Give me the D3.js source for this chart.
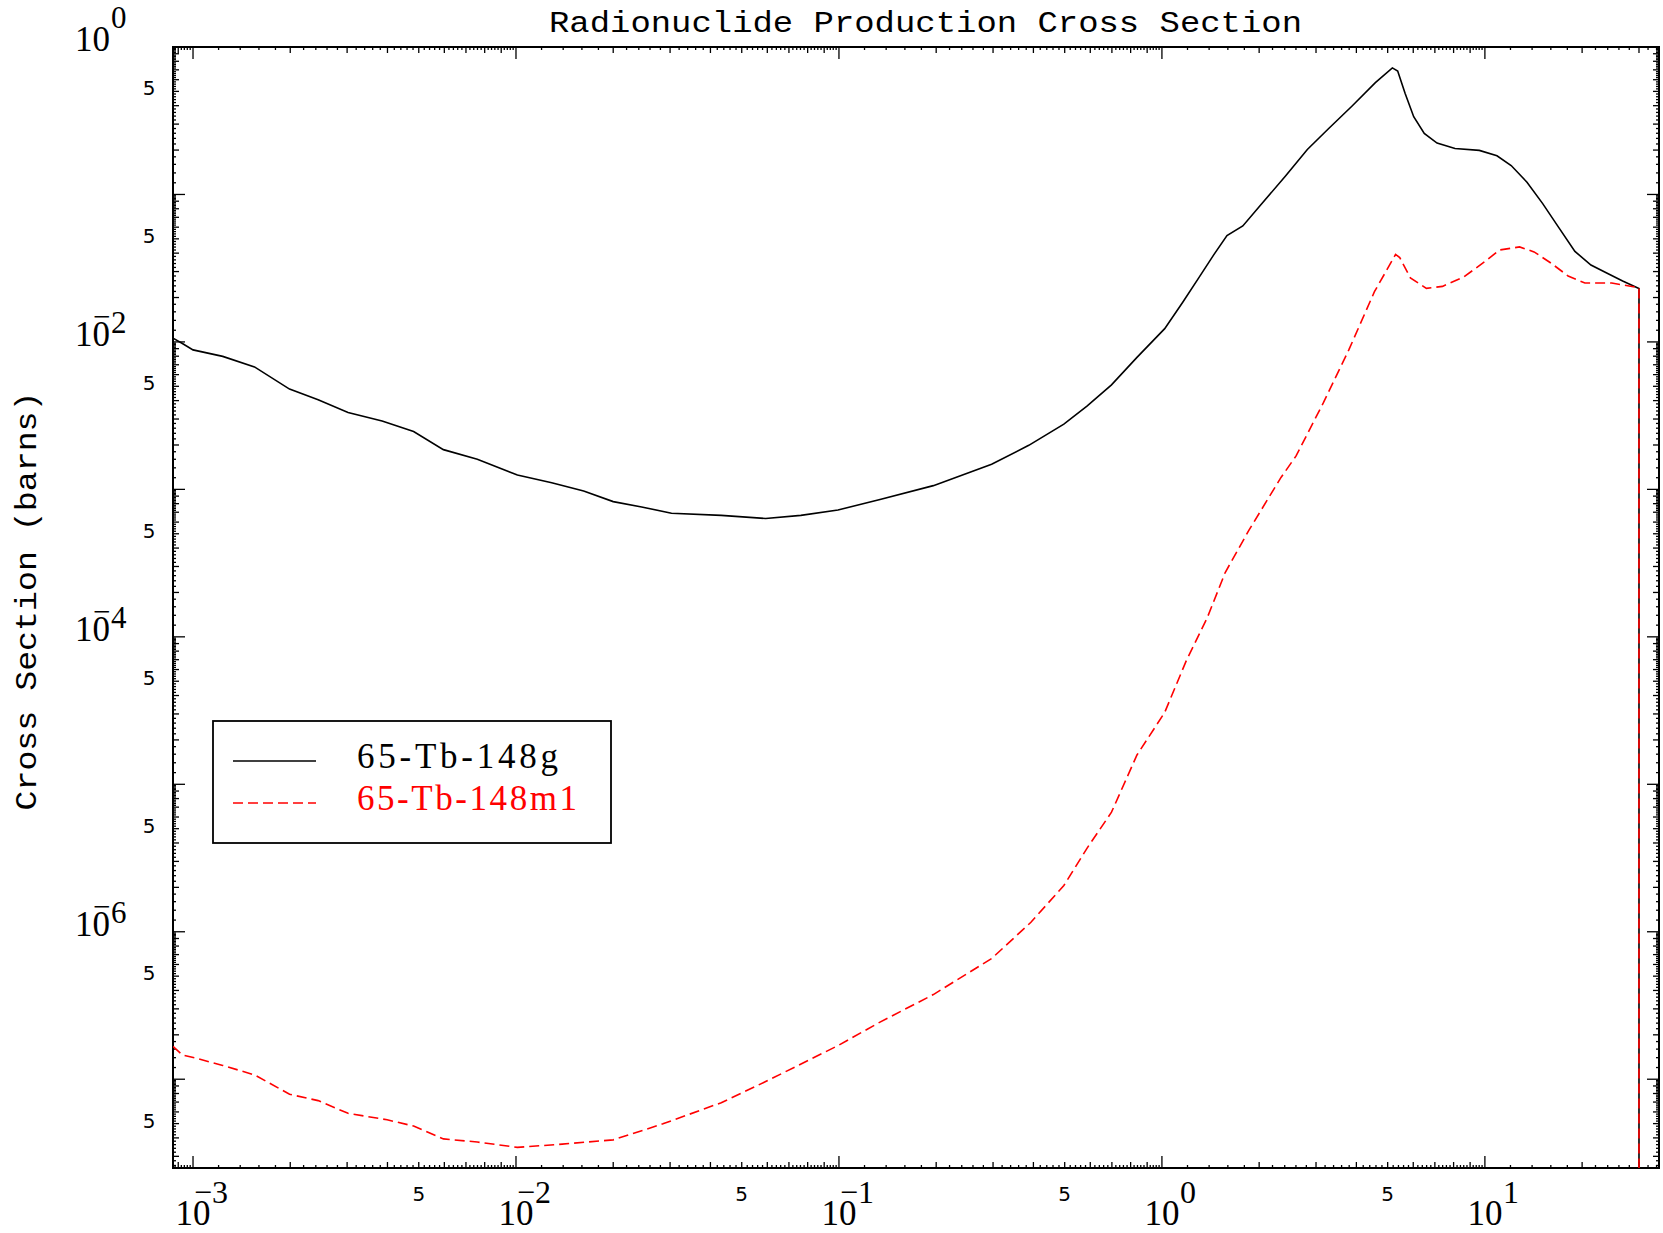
<!DOCTYPE html>
<html>
<head>
<meta charset="utf-8">
<script src="https://cdn.jsdelivr.net/npm/d3@7"></script>
<style>
  body { margin: 0; background: #fff; }
  svg { display: block; }
</style>
</head>
<body>
<div id="chart"></div>
<script>
// cross section (barns) vs incident energy (MeV)
const energyG = [8.67e-4, 9.27e-4, 1.0e-3, 1.236e-3, 1.55e-3, 1.99e-3, 2.44e-3, 3.02e-3, 3.85e-3, 4.82e-3,
  5.96e-3, 7.59e-3, 1.01e-2, 1.29e-2, 1.62e-2, 2.0e-2, 2.45e-2, 3.03e-2, 4.32e-2, 5.93e-2,
  7.62e-2, 9.93e-2, 0.134, 0.196, 0.297, 0.387, 0.497, 0.586, 0.698, 0.837,
  1.02, 1.16, 1.30, 1.45, 1.59, 1.78, 2.04, 2.41, 2.82, 3.29,
  3.88, 4.58, 5.17, 5.37, 5.66, 6.02, 6.49, 7.11, 8.08, 9.61,
  10.9, 12.06, 13.5, 15.1, 16.96, 19.0, 21.3, 24.0, 26.7, 30.0, 30.0]
const sigmaG = [1.06e-2, 9.75e-3, 8.83e-3, 7.98e-3, 6.77e-3, 4.79e-3, 4.06e-3, 3.32e-3, 2.91e-3, 2.47e-3,
  1.86e-3, 1.60e-3, 1.25e-3, 1.11e-3, 9.75e-4, 8.26e-4, 7.60e-4, 6.89e-4, 6.66e-4, 6.35e-4,
  6.66e-4, 7.25e-4, 8.55e-4, 1.06e-3, 1.48e-3, 1.99e-3, 2.77e-3, 3.67e-3, 5.11e-3, 7.86e-3,
  1.23e-2, 1.86e-2, 2.72e-2, 3.92e-2, 5.27e-2, 6.12e-2, 8.67e-2, 0.133, 0.202, 0.281,
  0.398, 0.573, 0.722, 0.687, 0.485, 0.337, 0.259, 0.223, 0.205, 0.199,
  0.183, 0.157, 0.121, 0.0867, 0.0593, 0.0411, 0.0332, 0.0291, 0.0259, 0.0230, 1e-10]

const energyM = [8.67e-4, 9.27e-4, 1.02e-3, 1.236e-3, 1.55e-3, 1.99e-3, 2.44e-3, 3.02e-3, 3.99e-3, 4.82e-3,
  5.96e-3, 7.59e-3, 1.01e-2, 1.39e-2, 2.0e-2, 2.85e-2, 4.32e-2, 5.93e-2, 9.93e-2, 0.134,
  0.196, 0.297, 0.393, 0.497, 0.586, 0.698, 0.837, 1.02, 1.19, 1.38,
  1.57, 1.86, 2.34, 2.60, 3.16, 3.79, 4.55, 5.29, 5.45, 5.88,
  6.59, 7.39, 8.59, 9.98, 11.1, 12.8, 14.2, 16.0, 18.1, 20.4,
  24.7, 30.0, 30.0]
const sigmaM = [1.67e-7, 1.46e-7, 1.39e-7, 1.24e-7, 1.07e-7, 7.91e-8, 7.16e-8, 5.87e-8, 5.31e-8, 4.81e-8,
  3.94e-8, 3.75e-8, 3.45e-8, 3.63e-8, 3.88e-8, 4.98e-8, 6.93e-8, 9.64e-8, 1.69e-7, 2.44e-7,
  3.75e-7, 6.58e-7, 1.16e-6, 2.06e-6, 3.68e-6, 6.47e-6, 1.58e-5, 3.07e-5, 6.90e-5, 1.34e-4,
  2.73e-4, 5.29e-4, 1.21e-3, 1.68e-3, 3.86e-3, 8.83e-3, 2.19e-2, 3.92e-2, 3.73e-2, 2.72e-2,
  2.31e-2, 2.38e-2, 2.75e-2, 3.5e-2, 4.2e-2, 4.41e-2, 4.08e-2, 3.43e-2, 2.80e-2, 2.51e-2,
  2.51e-2, 2.33e-2, 1e-10]

const seriesNames = ["65-Tb-148g", "65-Tb-148m1"]
const seriesColors = ["#000000", "#ff0000"]

// axis ranges and labelled ticks
const xDomain = [8.67e-4, 34.6]
const yDomain = [2.5e-8, 1]
const xMajorTicks = [1e-3, 1e-2, 1e-1, 1, 10]
const xMajorExp = ["\u22123", "\u22122", "\u22121", "0", "1"]
const xFiveTicks = [5e-3, 5e-2, 5e-1, 5]
const yMajorTicks = [1, 1e-2, 1e-4, 1e-6]
const yMajorExp = ["0", "\u22122", "\u22124", "\u22126"]
const yFiveTicks = [5e-1, 5e-2, 5e-3, 5e-4, 5e-5, 5e-6, 5e-7, 5e-8]

const W = 1663, H = 1233
const m = { left: 173, right: 4, top: 47, bottom: 65 }

const svg = d3.select("#chart").append("svg")
  .attr("width", W).attr("height", H)

const x = d3.scaleLog().domain(xDomain).range([m.left, W - m.right])
const y = d3.scaleLog().domain(yDomain).range([H - m.bottom, m.top]).clamp(true)

const x0 = m.left, x1 = W - m.right, y0 = m.top, y1 = H - m.bottom

// minor ticks every 0.2 within each decade, longer at whole numbers
function logTicks(domain) {
  const out = []
  const lo = Math.floor(Math.log10(domain[0])), hi = Math.ceil(Math.log10(domain[1]))
  for (let k = lo; k <= hi; k++) {
    for (let i = 0; i < 45; i++) {
      const mult = 1 + i * 0.2
      const v = +(mult * Math.pow(10, k)).toPrecision(6)
      if (v < domain[0] || v > domain[1]) continue
      const len = i === 0 ? 12 : (i % 5 === 0 ? 6 : 3)
      out.push({ v, len })
    }
  }
  return out
}

const xt = logTicks(xDomain)
const yt = logTicks(yDomain)

const ticks = svg.append("g").attr("stroke", "#000").attr("stroke-width", 1.3)
ticks.selectAll(".xb").data(xt).join("line")
  .attr("x1", d => x(d.v)).attr("x2", d => x(d.v))
  .attr("y1", y1).attr("y2", d => y1 - d.len)
ticks.selectAll(".xt").data(xt).join("line")
  .attr("x1", d => x(d.v)).attr("x2", d => x(d.v))
  .attr("y1", y0).attr("y2", d => y0 + d.len)
ticks.selectAll(".yl").data(yt).join("line")
  .attr("y1", d => y(d.v)).attr("y2", d => y(d.v))
  .attr("x1", x0).attr("x2", d => x0 + d.len)
ticks.selectAll(".yr").data(yt).join("line")
  .attr("y1", d => y(d.v)).attr("y2", d => y(d.v))
  .attr("x1", x1).attr("x2", d => x1 - d.len)

// frame
svg.append("rect")
  .attr("x", x0).attr("y", y0).attr("width", x1 - x0).attr("height", y1 - y0)
  .attr("fill", "none").attr("stroke", "#000").attr("stroke-width", 2)

// x tick labels: 10 with raised exponent, and the "5" marks
const labelFont = "'Liberation Serif', 'DejaVu Serif', serif"
xMajorTicks.forEach((v, i) => {
  const neg = xMajorExp[i].startsWith("\u2212")
  svg.append("text")
    .attr("x", x(v)).attr("y", 1225)
    .attr("text-anchor", "middle")
    .style("font-family", labelFont).style("font-size", "35px")
    .text("10")
  svg.append("text")
    .attr("x", x(v) + (neg ? 1 : 18)).attr("y", 1203)
    .style("font-family", labelFont).style("font-size", "32px")
    .text(xMajorExp[i])
})
svg.selectAll(".x5").data(xFiveTicks).join("text")
  .attr("x", d => x(d)).attr("y", 1201)
  .attr("text-anchor", "middle")
  .style("font-family", "'DejaVu Sans', sans-serif").style("font-size", "20px")
  .text("5")

// y tick labels: the minus of a negative exponent sits as a bar above the 0
yMajorTicks.forEach((v, i) => {
  const exp = yMajorExp[i]
  const neg = exp.startsWith("\u2212")
  svg.append("text")
    .attr("x", 110).attr("y", y(v) + 4)
    .attr("text-anchor", "end")
    .style("font-family", labelFont).style("font-size", "35px")
    .text("10")
  if (neg) {
    svg.append("text")
      .attr("x", 93).attr("y", y(v) - 15)
      .style("font-family", labelFont).style("font-size", "31px")
      .text("\u2212")
  }
  svg.append("text")
    .attr("x", 111).attr("y", y(v) + 4 - (neg ? 13 : 23))
    .style("font-family", labelFont).style("font-size", "31px")
    .text(neg ? exp.slice(1) : exp)
})
svg.selectAll(".y5").data(yFiveTicks).join("text")
  .attr("x", 149).attr("y", d => y(d) + 4)
  .attr("text-anchor", "middle")
  .style("font-family", "'DejaVu Sans', sans-serif").style("font-size", "20px")
  .text("5")

// title and axis label
const monoFont = "'Liberation Mono', 'DejaVu Sans Mono', monospace"
svg.append("text")
  .attr("x", 549).attr("y", 32)
  .attr("textLength", 753).attr("lengthAdjust", "spacingAndGlyphs")
  .style("font-family", monoFont).style("font-size", "29px")
  .text("Radionuclide Production Cross Section")

svg.append("text")
  .attr("transform", "translate(36,601) rotate(-90)")
  .attr("text-anchor", "middle")
  .attr("textLength", 419).attr("lengthAdjust", "spacingAndGlyphs")
  .style("font-family", monoFont).style("font-size", "29px")
  .text("Cross Section (barns)")

// curves, clipped to the frame
svg.append("clipPath").attr("id", "plot-clip")
  .append("rect").attr("x", x0).attr("y", y0).attr("width", x1 - x0).attr("height", y1 - y0)

const line = d3.line().x(d => x(d[0])).y(d => y(d[1]))
const curves = [d3.zip(energyG, sigmaG), d3.zip(energyM, sigmaM)]

const plot = svg.append("g").attr("clip-path", "url(#plot-clip)")
plot.selectAll("path").data(curves).join("path")
  .attr("d", line)
  .attr("fill", "none")
  .attr("stroke", (d, i) => seriesColors[i])
  .attr("stroke-width", 1.6)
  .attr("stroke-dasharray", (d, i) => i === 1 ? "10,5" : null)

// legend
const lg = svg.append("g")
lg.append("rect")
  .attr("x", 213).attr("y", 721).attr("width", 398).attr("height", 122)
  .attr("fill", "#fff").attr("stroke", "#000").attr("stroke-width", 1.8)

const legendWidths = [201, 220]
seriesNames.forEach((name, i) => {
  const ly = 761 + i * 42
  lg.append("line")
    .attr("x1", 233).attr("x2", 316).attr("y1", ly).attr("y2", ly)
    .attr("stroke", seriesColors[i]).attr("stroke-width", 1.6)
    .attr("stroke-dasharray", i === 1 ? "10,5" : null)
  lg.append("text")
    .attr("x", 357).attr("y", ly + 7)
    .attr("textLength", legendWidths[i]).attr("lengthAdjust", "spacing")
    .style("font-family", labelFont).style("font-size", "35px")
    .attr("fill", seriesColors[i])
    .text(name)
})
</script>
</body>
</html>
